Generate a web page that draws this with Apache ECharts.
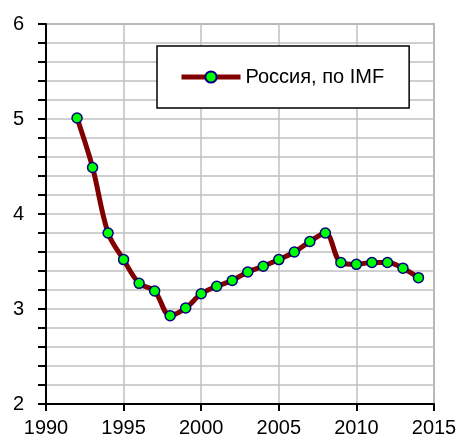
<!DOCTYPE html>
<html>
<head>
<meta charset="utf-8">
<script src="https://cdn.jsdelivr.net/npm/echarts@6/dist/echarts.min.js"></script>
<style>html,body{margin:0;padding:0;background:#fff}#c{width:461px;height:441px}</style>
</head>
<body>
<div id="c"></div>
<script>
const years = [1992,1993,1994,1995,1996,1997,1998,1999,2000,2001,2002,2003,2004,2005,2006,2007,2008,2009,2010,2011,2012,2013,2014];
const values = [5.01,4.49,3.80,3.52,3.27,3.19,2.93,3.01,3.16,3.24,3.30,3.39,3.45,3.52,3.60,3.71,3.80,3.49,3.47,3.49,3.49,3.43,3.33];
const seriesName = 'Россия, по IMF';

const chart = echarts.init(document.getElementById('c'), null, {renderer:'canvas'});
const font = '"Liberation Sans", Arial, sans-serif';
chart.setOption({
  animation: false,
  backgroundColor: '#fff',
  grid: {left: 46, right: 27, top: 24, bottom: 37, show: true, borderColor: '#808080', borderWidth: 1.5},
  legend: {
    show: true,
    left: 157, top: 46,
    orient: 'horizontal',
    backgroundColor: '#fff',
    borderColor: '#000',
    borderWidth: 1.5,
    borderRadius: 0,
    padding: [21, 25, 21, 22],
    itemWidth: 59,
    itemHeight: 14,
    itemGap: 5,
    lineStyle: {width: 5, color: '#800000'},
    textStyle: {fontFamily: font, fontSize: 20, color: '#000'},
    data: [seriesName]
  },
  xAxis: {
    type: 'value', min: 1990, max: 2015, interval: 5,
    axisLine: {show: true, onZero: false, lineStyle: {color: '#000', width: 2}},
    axisTick: {show: true, length: 7, lineStyle: {color: '#000', width: 2}},
    axisLabel: {fontFamily: font, fontSize: 20, color: '#000', margin: 14, showMaxLabel: true, showMinLabel: true,
      formatter: v => String(v)},
    splitLine: {show: true, lineStyle: {color: '#c0c0c0', width: 1.5}}
  },
  yAxis: {
    type: 'value', min: 2, max: 6, interval: 1,
    axisLine: {show: true, onZero: false, lineStyle: {color: '#000', width: 2}},
    axisTick: {show: true, length: 8, lineStyle: {color: '#000', width: 2}},
    minorTick: {show: true, splitNumber: 5, length: 8, lineStyle: {color: '#000', width: 2}},
    minorSplitLine: {show: true, lineStyle: {color: '#c0c0c0', width: 1.5}},
    axisLabel: {fontFamily: font, fontSize: 20, color: '#000', margin: 22, formatter: v => String(v)},
    splitLine: {show: true, lineStyle: {color: '#c0c0c0', width: 1.5}}
  },
  series: [{
    name: seriesName,
    type: 'line',
    data: years.map((y, i) => [y, values[i]]),
    smooth: 0.35,
    symbol: 'circle',
    symbolSize: 10,
    showAllSymbol: true,
    lineStyle: {color: '#800000', width: 5},
    itemStyle: {color: '#00ff00', borderColor: '#000080', borderWidth: 1.5},
    z: 5
  }]
});
</script>
</body>
</html>
